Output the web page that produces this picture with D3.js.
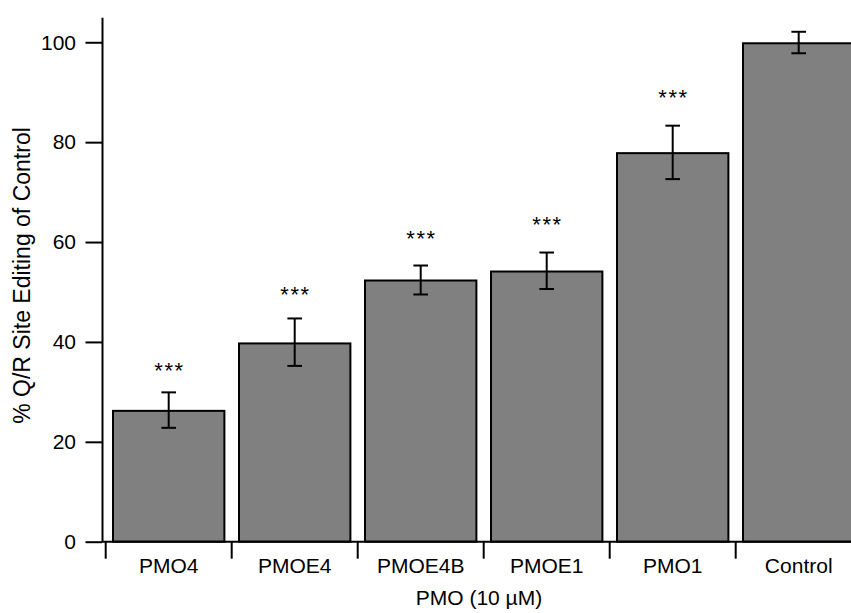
<!DOCTYPE html>
<html>
<head>
<meta charset="utf-8">
<script src="https://cdn.jsdelivr.net/npm/d3@7"></script>
<style>
  body { margin: 0; background: #fff; }
  text { font-family: Arial, "Liberation Sans", sans-serif; fill: #000; }
</style>
</head>
<body>
<div id="chart"></div>
<script>
// Data
var categories = ["PMO4", "PMOE4", "PMOE4B", "PMOE1", "PMO1", "Control"];
var means      = [26.2, 39.7, 52.3, 54.1, 77.8, 99.8];
var errUpper   = [29.9, 44.7, 55.3, 57.9, 83.3, 102.1];
var errLower   = [22.8, 35.2, 49.5, 50.6, 72.6, 97.8];
var starLevel  = [35.2, 50.4, 61.8, 64.6, 89.9, null];
var yTicks     = [0, 20, 40, 60, 80, 100];

var data = categories.map(function (c, i) {
  return { name: c, mean: means[i], hi: errUpper[i], lo: errLower[i], star: starLevel[i] };
});

// Boilerplate:
var margin = { top: 17.3, left: 102 },
    fullW = 851, fullH = 613,
    height = 541.7 - margin.top;

var svg = d3.select("#chart")
  .append("svg")
  .attr("width", fullW)
  .attr("height", fullH)
  .append("g")
  .attr("transform", "translate(" + margin.left + "," + margin.top + ")");

var x = d3.scaleBand()
  .domain(categories)
  .range([3.7, 759.7])
  .paddingInner(0.116)
  .paddingOuter(0.058);

var y = d3.scaleLinear()
  .domain([0, 105])
  .range([height, 0]);

// bars
svg.selectAll("rect.bar")
  .data(data)
  .enter()
  .append("rect")
  .attr("class", "bar")
  .attr("x", function (d) { return x(d.name); })
  .attr("width", x.bandwidth())
  .attr("y", function (d) { return y(d.mean); })
  .attr("height", function (d) { return y(0) - y(d.mean); })
  .attr("fill", "#808080")
  .attr("stroke", "#000")
  .attr("stroke-width", 2);

// error bars
var capW = 7.3;
var err = svg.selectAll("g.err")
  .data(data)
  .enter()
  .append("g")
  .attr("class", "err")
  .attr("stroke", "#000")
  .attr("stroke-width", 2);

err.append("line")
  .attr("x1", function (d) { return x(d.name) + x.bandwidth() / 2; })
  .attr("x2", function (d) { return x(d.name) + x.bandwidth() / 2; })
  .attr("y1", function (d) { return y(d.hi); })
  .attr("y2", function (d) { return y(d.lo); });

err.selectAll("line.cap")
  .data(function (d) { return [d.hi, d.lo].map(function (v) { return { name: d.name, v: v }; }); })
  .enter()
  .append("line")
  .attr("class", "cap")
  .attr("x1", function (d) { return x(d.name) + x.bandwidth() / 2 - capW; })
  .attr("x2", function (d) { return x(d.name) + x.bandwidth() / 2 + capW; })
  .attr("y1", function (d) { return y(d.v); })
  .attr("y2", function (d) { return y(d.v); });

// significance stars
svg.selectAll("text.star")
  .data(data.filter(function (d) { return d.star != null; }))
  .enter()
  .append("text")
  .attr("class", "star")
  .attr("x", function (d) { return x(d.name) + x.bandwidth() / 2 + 0.75; })
  .attr("y", function (d) { return y(d.star) + 12.5; })
  .attr("text-anchor", "middle")
  .style("font-size", "22px")
  .style("letter-spacing", "1.5px")
  .text("***");

// y axis
var yAxis = d3.axisLeft(y)
  .tickValues(yTicks)
  .tickSize(16.5)
  .tickSizeOuter(0)
  .tickPadding(9.5);
var yg = svg.append("g").call(yAxis);
yg.selectAll("text").style("font-size", "21px").attr("font-family", null);
yg.selectAll("line, path").attr("stroke", "#000").attr("stroke-width", 2);

// x axis: baseline across, ticks at band edges, labels at centres
svg.append("line")
  .attr("x1", 0).attr("x2", fullW - margin.left)
  .attr("y1", y(0)).attr("y2", y(0))
  .attr("stroke", "#000").attr("stroke-width", 2);

var xAxis = d3.axisBottom(x).tickSize(0).tickPadding(16.1);
var xg = svg.append("g")
  .attr("transform", "translate(0," + y(0) + ")")
  .call(xAxis);
xg.select(".domain").remove();
xg.selectAll("text").style("font-size", "21px").attr("font-family", null);

var edges = categories.map(function (c) { return x(c) - x.step() * x.paddingInner() / 2; });
svg.selectAll("line.edge")
  .data(edges)
  .enter()
  .append("line")
  .attr("class", "edge")
  .attr("x1", function (d) { return d; })
  .attr("x2", function (d) { return d; })
  .attr("y1", y(0))
  .attr("y2", y(0) + 17)
  .attr("stroke", "#000")
  .attr("stroke-width", 2);

// axis titles
svg.append("text")
  .attr("x", 479 - margin.left)
  .attr("y", 605 - margin.top)
  .attr("text-anchor", "middle")
  .style("font-size", "21px")
  .text("PMO (10 \u00b5M)");

svg.append("text")
  .attr("transform", "translate(" + (30 - margin.left) + "," + (275.5 - margin.top) + ") rotate(-90)")
  .attr("text-anchor", "middle")
  .style("font-size", "23px")
  .text("% Q/R Site Editing of Control");
</script>
</body>
</html>
